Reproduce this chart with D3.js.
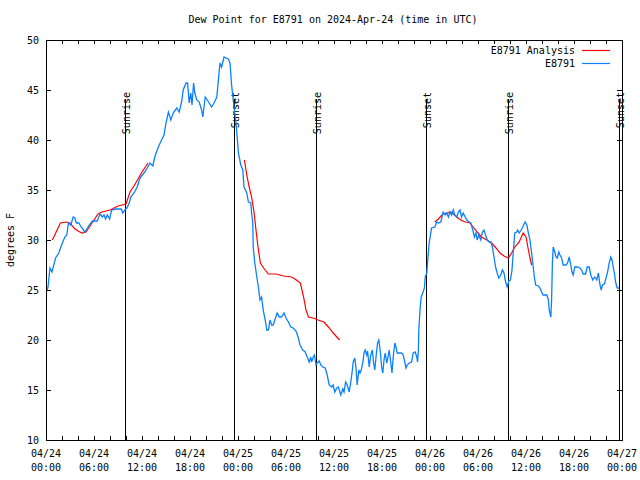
<!DOCTYPE html>
<html><head><meta charset="utf-8">
<script src="https://cdn.jsdelivr.net/npm/d3@7"></script>
<style>
body{margin:0;background:#fff;}
text{font-family:"DejaVu Sans Mono","Liberation Mono",monospace;font-size:10px;fill:#000;}
</style></head>
<body><svg id="c" width="640" height="480"></svg>
<script>
// hours since 2024-04-24 00:00 UTC
const blueHours = [0.12,0.25,0.5,0.75,1.2,1.6,1.9,2.35,2.6,2.8,3.1,3.4,3.6,3.8,4.1,4.4,4.85,5.1,5.4,5.8,6.4,6.75,7.05,7.25,7.45,7.65,7.95,8.2,8.7,9.4,9.6,9.85,10.1,10.4,10.6,11.0,11.4,11.75,12.25,12.65,13.0,13.35,13.6,13.9,14.15,14.45,14.75,15.0,15.3,15.6,15.9,16.35,16.65,16.95,17.15,17.5,17.7,17.9,18.1,18.25,18.45,18.6,18.85,19.15,19.45,19.6,19.9,20.15,20.4,20.7,21.0,21.35,21.55,21.75,21.95,22.25,22.5,22.8,23.0,23.2,23.5,23.75,23.9,24.05,24.35,24.6,24.75,25.1,25.3,25.6,25.7,25.85,25.9,26.1,26.35,26.55,26.75,26.95,27.15,27.4,27.6,27.8,28.0,28.2,28.4,28.6,28.9,29.15,29.45,29.75,30.0,30.3,30.6,30.9,31.25,31.55,31.75,32.1,32.4,32.65,32.9,33.1,33.2,33.4,33.55,33.75,33.9,34.15,34.35,34.6,34.9,35.15,35.4,35.7,35.9,36.1,36.35,36.55,36.85,37.1,37.25,37.45,37.65,37.9,38.1,38.25,38.4,38.6,38.75,38.9,39.1,39.25,39.4,39.6,39.75,39.9,40.1,40.2,40.4,40.6,40.8,40.95,41.1,41.3,41.45,41.6,41.8,41.95,42.1,42.25,42.4,42.6,42.75,42.9,43.1,43.25,43.4,43.6,43.75,43.9,44.45,44.65,44.85,45.0,45.15,45.4,45.7,45.9,46.15,46.35,46.45,46.55,46.6,46.75,46.9,47.1,47.3,47.4,47.6,47.75,47.9,48.1,48.2,48.6,48.85,49.05,49.35,49.5,49.65,49.9,50.1,50.3,50.5,50.7,50.9,51.1,51.35,51.55,51.75,51.95,52.15,52.4,52.6,52.9,53.1,53.35,53.55,53.75,53.9,54.1,54.35,54.55,54.75,54.95,55.15,55.4,55.6,55.8,56.0,56.2,56.4,56.6,56.85,57.05,57.25,57.45,57.65,57.85,58.05,58.25,58.4,58.6,58.85,58.95,59.15,59.4,59.6,59.8,59.9,60.1,60.3,60.5,60.7,60.9,61.05,61.2,61.55,61.75,61.95,62.15,62.6,62.8,62.9,63.1,63.2,63.3,63.4,63.6,63.75,63.9,64.1,64.25,64.45,64.65,65.0,65.2,65.4,65.6,65.75,65.9,66.1,66.4,66.75,66.95,67.15,67.45,67.65,67.9,68.1,68.35,68.5,68.6,68.85,69.05,69.25,69.4,69.55,69.8,70.0,70.2,70.4,70.6,70.75,70.9,71.05,71.2,71.4,71.65];
const blueValues = [25.0,25.3,27.2,26.8,28.2,28.7,29.4,30.3,30.5,31.7,31.5,32.3,32.2,31.7,31.7,31.3,30.8,31.1,31.5,31.9,31.9,32.6,32.3,32.5,32.1,32.5,32.1,33.0,33.1,33.1,32.7,33.0,33.2,33.7,34.3,34.7,35.3,36.2,36.7,37.2,37.7,37.4,38.3,39.0,39.5,40.0,40.5,41.7,42.8,42.0,42.7,43.2,42.8,43.8,45.0,45.7,45.7,43.7,44.7,43.5,45.7,44.7,44.0,43.8,43.0,42.3,44.3,44.0,43.7,43.3,43.7,44.3,46.0,47.7,47.3,48.3,48.2,48.1,47.7,45.5,43.3,41.7,40.3,38.7,37.5,37.0,35.3,34.7,33.8,33.7,32.7,31.7,29.3,27.7,26.3,25.3,24.0,24.3,23.0,22.0,21.0,21.0,22.0,21.5,21.5,22.0,22.7,22.3,22.3,22.7,22.2,21.8,21.3,21.2,20.9,20.2,19.5,19.0,18.8,18.3,17.8,18.3,17.8,18.3,18.5,17.5,17.7,17.9,17.5,17.3,17.2,16.5,15.5,15.3,15.5,14.8,15.2,15.3,14.5,15.1,14.8,15.8,15.5,14.8,15.8,16.7,17.8,18.2,17.2,15.5,17.0,16.7,17.0,17.7,18.7,19.0,18.5,18.9,17.3,18.5,19.0,17.7,17.0,18.7,19.7,20.0,18.8,17.3,16.7,18.0,18.7,17.7,18.3,19.0,17.7,16.7,18.3,19.7,19.3,18.7,18.7,18.5,17.8,17.2,17.5,17.7,17.8,18.7,18.8,18.3,17.8,19.0,21.0,23.0,24.3,24.7,25.2,26.3,26.7,28.3,29.7,30.7,31.2,31.3,31.8,31.7,31.8,32.3,32.8,32.5,32.7,32.3,32.8,32.5,33.0,32.5,32.3,32.8,33.0,32.3,32.7,32.3,32.0,31.8,31.7,31.0,30.3,30.7,30.0,30.5,30.0,30.8,31.0,30.5,30.0,29.8,29.8,29.3,28.3,27.3,26.7,26.2,26.5,27.0,26.7,25.8,25.3,25.9,26.0,27.0,28.7,30.7,30.8,31.0,30.7,31.0,31.3,31.7,31.8,31.5,30.7,30.0,28.7,27.3,26.3,25.5,25.4,25.2,24.8,24.5,24.5,24.0,23.0,22.3,24.0,27.7,29.3,28.8,28.3,28.2,28.8,28.5,28.2,27.5,27.5,27.7,28.3,27.5,26.8,26.5,27.3,27.3,27.2,27.0,26.6,26.6,27.3,27.3,26.5,26.0,26.2,26.3,26.0,26.7,25.5,25.0,25.5,25.6,26.2,26.8,27.7,28.3,28.0,27.3,26.7,25.8,25.2,25.2];
// analysis series; null marks a gap
const redHours = [0.8,1.8,2.5,3.0,3.5,4.0,4.5,5.0,5.5,6.0,6.5,7.0,8.0,9.0,10.0,10.5,11.0,11.5,12.0,12.75, 13.5,
  24.8,25.1,25.4,25.7,26.0,26.25,26.5,26.8,27.2,27.8,28.8,29.7,30.7,31.3,31.8,32.2,32.5,32.8,33.4,34.0,34.75,35.3,35.9,36.7, 37.5,
  48.6,49.05,49.6,50.1,50.6,50.9,51.35,51.85,52.4,53.0,53.4,53.9,54.45,55.1,55.7,56.25,56.75,57.25,57.8,58.2,58.6,59.15,59.65,60.0,60.3,60.5,60.7];
const redValues = [30.0,31.7,31.8,31.7,31.2,30.9,30.7,30.8,31.4,32.0,32.6,32.8,33.0,33.4,33.6,34.8,35.4,36.1,36.8,37.7, null,
  38.0,36.5,35.3,34.3,32.8,31.0,29.3,27.7,27.2,26.6,26.6,26.4,26.3,26.0,25.7,24.3,23.0,22.3,22.2,22.0,21.8,21.3,20.7,20.0, null,
  31.8,32.1,32.6,32.7,32.8,32.6,32.3,32.0,31.8,31.7,31.3,30.8,30.3,30.0,29.7,29.2,28.7,28.4,28.2,28.7,29.3,29.8,30.7,30.3,29.0,28.2,27.5];
const sunHours = [9.91,23.54,33.79,47.54,57.79,71.6];
const sunLabels = ["Sunrise","Sunset","Sunrise","Sunset","Sunrise","Sunset"];
const yTicks = [10,15,20,25,30,35,40,45,50];
const seriesNames = ["E8791 Analysis","E8791"];
const seriesColors = ["#ff0000","#0a80ff"];
const title = "Dew Point for E8791 on 2024-Apr-24 (time in UTC)";
const yLabel = "degrees F";

const t0 = Date.UTC(2024,3,24);
const toDate = h => new Date(t0 + h*3600e3);
const L=46, R=622, T=40, B=440;
const svg = d3.select("#c");
const x = d3.scaleUtc().domain([toDate(0), toDate(72)]).range([L,R]);
const y = d3.scaleLinear().domain([10,50]).range([B,T]);

svg.append("text").attr("x",333).attr("y",23).attr("text-anchor","middle").text(title);
svg.append("text").attr("transform","translate(14,240) rotate(-90)").attr("text-anchor","middle").text(yLabel);

// x ticks every 2h, top & bottom
const xt = d3.range(0,73,2).map(toDate);
const xa = svg.append("g").attr("transform",`translate(0,${B})`)
  .call(d3.axisBottom(x).tickValues(xt).tickSize(-4).tickFormat(""));
const xa2 = svg.append("g").attr("transform",`translate(0,${T})`)
  .call(d3.axisTop(x).tickValues(xt).tickSize(-4).tickFormat(""));
const ya = svg.append("g").attr("transform",`translate(${L},0)`)
  .call(d3.axisLeft(y).tickValues(yTicks).tickSize(-5).tickPadding(7).tickFormat(d3.format("d")));
const ya2 = svg.append("g").attr("transform",`translate(${R},0)`)
  .call(d3.axisRight(y).tickValues(yTicks).tickSize(-5).tickFormat(""));
[xa,xa2,ya,ya2].forEach(g=>{g.select(".domain").remove(); g.selectAll("line").attr("stroke","#000");
  g.selectAll("text").style("font-family",'"DejaVu Sans Mono",monospace').style("font-size","10px").attr("fill","#000");});

const fmtD = d3.utcFormat("%m/%d"), fmtT = d3.utcFormat("%H:%M");
const lab = svg.append("g").selectAll("text").data(d3.range(0,73,6).map(toDate)).join("text")
  .attr("text-anchor","middle").attr("x",d=>x(d));
lab.append("tspan").attr("x",d=>x(d)).attr("y",457).text(d=>fmtD(d));
lab.append("tspan").attr("x",d=>x(d)).attr("y",471).text(d=>fmtT(d));

// sun lines
const sg = svg.append("g");
sunHours.forEach((h,i)=>{
  const sx = Math.round(x(toDate(h)))+0.5;
  sg.append("line").attr("x1",sx).attr("x2",sx).attr("y1",99).attr("y2",B).attr("stroke","#000").attr("stroke-width",1);
  sg.append("text").attr("transform",`translate(${sx+4},92) rotate(-90)`).attr("text-anchor","end").text(sunLabels[i]);
});

const blue = blueHours.map((h,i)=>({t:toDate(h),v:blueValues[i]}));
const red = redHours.map((h,i)=>({t:toDate(h),v:redValues[i]}));
const line = d3.line().defined(d=>d.v!=null).x(d=>x(d.t)).y(d=>y(d.v));
svg.append("path").datum(red).attr("d",line).attr("fill","none").attr("stroke",seriesColors[0]).attr("stroke-width",1.2);
svg.append("path").datum(blue).attr("d",line).attr("fill","none").attr("stroke",seriesColors[1]).attr("stroke-width",1.3);

// frame
svg.append("rect").attr("x",L+0.5).attr("y",T+0.5).attr("width",R-L).attr("height",B-T)
  .attr("fill","none").attr("stroke","#000").attr("stroke-width",1);

// legend
const lg = svg.append("g");
seriesNames.forEach((n,i)=>{
  const ly = 50 + i*13;
  lg.append("text").attr("x",575).attr("y",ly+4).attr("text-anchor","end").text(n);
  lg.append("line").attr("x1",582).attr("x2",610).attr("y1",ly+0.5).attr("y2",ly+0.5).attr("stroke",seriesColors[i]).attr("stroke-width",1.2);
});
</script></body></html>
